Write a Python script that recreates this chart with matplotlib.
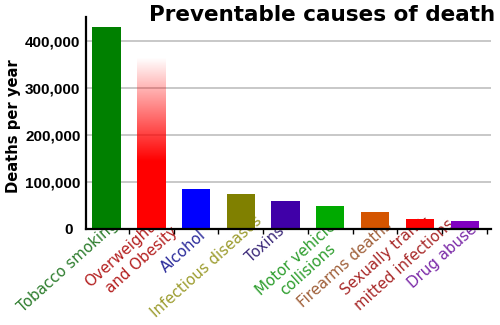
import numpy as np
import matplotlib
matplotlib.use("Agg")
import matplotlib.pyplot as plt
from matplotlib.transforms import ScaledTranslation

# Preventable causes of death, deaths per year
causes = ["Tobacco smoking", "Overweight\nand Obesity", "Alcohol",
          "Infectious diseases", "Toxins", "Motor vehicle\ncollisions",
          "Firearms deaths", "Sexually trans-\nmitted infections", "Drug abuse"]
deaths = [428000, 365000, 85000, 75000, 60000, 48000, 36000, 21000, 16000]
bar_colors = ["#008000", "#ff0000", "#0000ff", "#808000", "#4000a8",
              "#00aa00", "#d45500", "#ff0000", "#8000c0"]
label_colors = ["#2e7d2e", "#b42020", "#2b2b9b", "#9c9c2e", "#3d2b7a",
                "#2e9e2e", "#a0603a", "#a82828", "#7b2aa8"]
yticks = [0, 100000, 200000, 300000, 400000]

# start point (px from top-left) of every label line
label_starts = [[(23, 313)],
                [(90, 288), (111, 294)],
                [(166, 273)],
                [(156, 318)],
                [(251, 263)],
                [(261, 296), (285, 296)],
                [(303, 308)],
                [(346, 296), (360, 311)],
                [(413, 289)]]

W, H = 500, 325
fig = plt.figure(figsize=(W / 100, H / 100), dpi=100)
ax = fig.add_axes([0.172, 0.2954, 0.81, 0.6523])

x = np.arange(len(causes))
bars = ax.bar(x, deaths, width=0.63, color=bar_colors, zorder=2)

# Overweight bar fades out towards the top
ob = bars[1]
ob.set_facecolor("none")
h = deaths[1]
v = np.linspace(0, h, 200)
alpha = np.clip((h - v) / (h - 145000), 0, 1)
grad = np.zeros((200, 1, 4))
grad[:, 0, 0] = 1.0
grad[:, 0, 3] = alpha
x0 = ob.get_x()
img = ax.imshow(grad, extent=[x0, x0 + ob.get_width(), 0, h], origin="lower",
                aspect="auto", zorder=2, interpolation="bilinear")
img.set_clip_path(ob)

ax.set_xlim(-0.46, 8.59)
ax.set_ylim(0, 450000)

ax.set_yticks(yticks)
ax.set_yticklabels(["{:,}".format(t) for t in yticks], fontweight="bold",
                   fontsize=11, family="Liberation Sans")
ax.tick_params(axis="y", length=0, pad=4)
# the zero label sits a little further left
zero = ax.get_yticklabels()[0]
zero.set_transform(zero.get_transform() + ScaledTranslation(-0.08, 0, fig.dpi_scale_trans))
for t in yticks[1:]:
    ax.axhline(t, color="#c4c4c4", lw=1.3, zorder=0.5)

ax.set_xticks(np.arange(len(causes)) + 0.5)
ax.set_xticklabels([])
ax.tick_params(axis="x", length=3.5, width=1, direction="out")

for s in ["top", "right"]:
    ax.spines[s].set_visible(False)
for s in ["left", "bottom"]:
    ax.spines[s].set_linewidth(1.6)

# category labels sit behind the bars
for name, c, starts in zip(causes, label_colors, label_starts):
    for line, (px, py) in zip(name.split("\n"), starts):
        ax.text(px / W, 1 - py / H, line, transform=fig.transFigure,
                color=c, fontsize=10.8, rotation=42, rotation_mode="anchor",
                ha="left", va="baseline", zorder=1, clip_on=False)

fig.text(0.644, 0.934, "Preventable causes of death", fontsize=15.5,
         fontweight="bold", ha="center", va="baseline")
fig.text(0.027, 0.611, "Deaths per year", fontsize=10.6, fontweight="bold",
         rotation=90, ha="center", va="center")

fig.savefig("out.png", dpi=100)
